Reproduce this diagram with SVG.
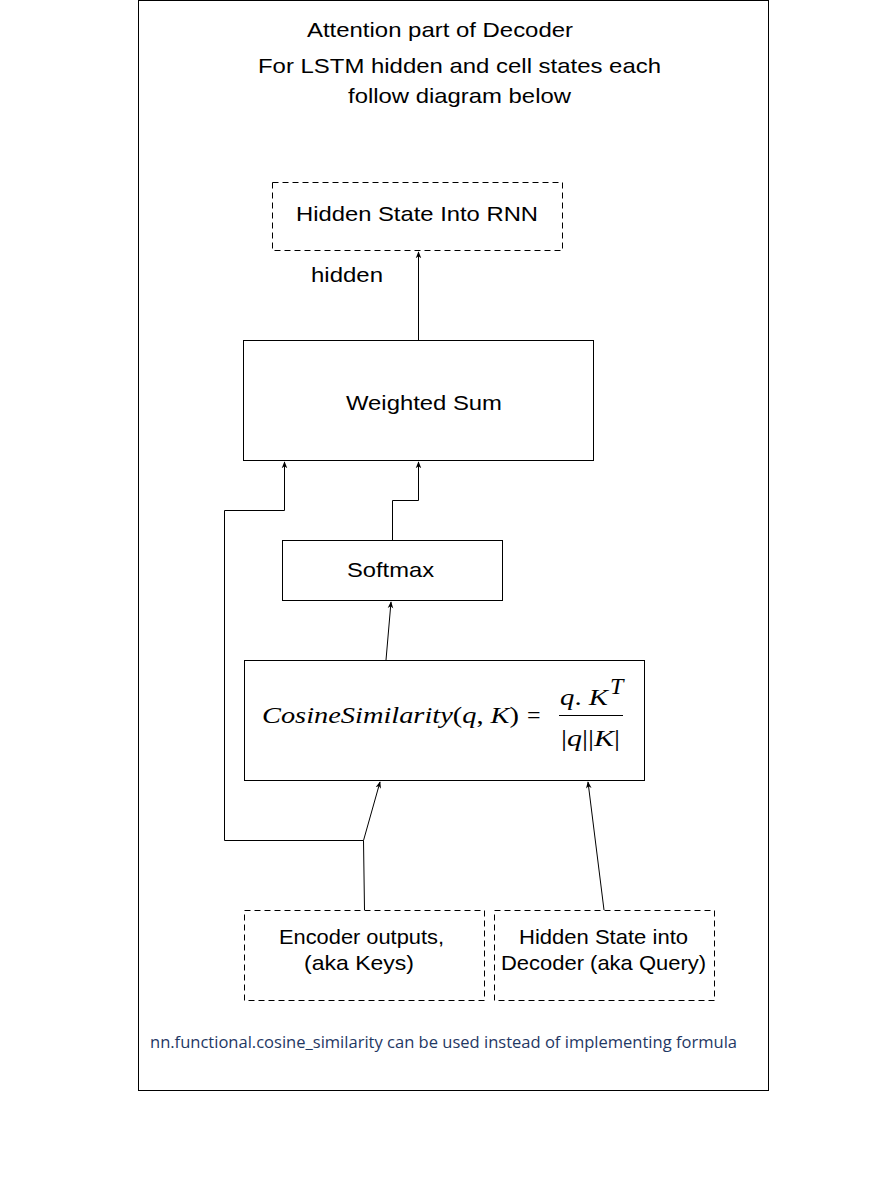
<svg xmlns="http://www.w3.org/2000/svg" width="883" height="1200" viewBox="0 0 883 1200">
<style>
.box{fill:#fff;stroke:#000;stroke-width:1}
.dash{fill:#fff;stroke:#000;stroke-width:1;stroke-dasharray:6 4}
.t{font-family:"Liberation Sans",Arial,sans-serif;font-size:21px;fill:#000;text-anchor:middle}
.c{fill:none;stroke:#000;stroke-width:1}
.m{font-family:"Liberation Serif","Times New Roman",serif;font-style:italic;font-size:24px;fill:#000}
.mr{font-family:"Liberation Serif","Times New Roman",serif;font-style:normal;font-size:24px;fill:#000}
</style>
<defs>
<marker id="arr" viewBox="0 0 10 10" refX="9" refY="5" markerWidth="7" markerHeight="7" orient="auto" markerUnits="userSpaceOnUse">
<path d="M0,1 L10,5 L0,9 L3,5 z" fill="#000"/>
</marker>
</defs>
<rect width="883" height="1200" fill="#fff"/>
<g id="frame">
<rect x="138.5" y="0.5" width="630" height="1090" class="box"/>
<text x="440" y="37" class="t" textLength="266" lengthAdjust="spacingAndGlyphs">Attention part of Decoder</text>
<text x="459.5" y="73" class="t" textLength="403" lengthAdjust="spacingAndGlyphs">For LSTM hidden and cell states each</text>
<text x="459.5" y="103" class="t" textLength="223" lengthAdjust="spacingAndGlyphs">follow diagram below</text>
</g>
<g id="connectors">
<path class="c" d="M418.5,340 L418.5,252" marker-end="url(#arr)"/>
<path class="c" d="M392.5,540 L392.5,500.5 L418.5,500.5 L418.5,462" marker-end="url(#arr)"/>
<path class="c" d="M363.5,840.5 L224.5,840.5 L224.5,510.5 L284.5,510.5 L284.5,462" marker-end="url(#arr)"/>
<path class="c" d="M364.5,910 L363.5,840.5 L380,782" marker-end="url(#arr)"/>
<path class="c" d="M604,910 L588,782" marker-end="url(#arr)"/>
<path class="c" d="M386,660 L391,602" marker-end="url(#arr)"/>
<text x="347" y="282" class="t" textLength="72" lengthAdjust="spacingAndGlyphs">hidden</text>
</g>
<g id="rnn">
<rect x="272.5" y="182.5" width="290" height="68" class="dash"/>
<text x="417" y="221" class="t" textLength="242" lengthAdjust="spacingAndGlyphs">Hidden State Into RNN</text>
</g>
<g id="wsum">
<rect x="243.5" y="340.5" width="350" height="120" class="box"/>
<text x="424" y="410" class="t" textLength="156" lengthAdjust="spacingAndGlyphs">Weighted Sum</text>
</g>
<g id="softmax">
<rect x="282.5" y="540.5" width="220" height="60" class="box"/>
<text x="390.5" y="577" class="t" textLength="87" lengthAdjust="spacingAndGlyphs">Softmax</text>
</g>
<g id="cosine">
<rect x="244.5" y="660.5" width="400" height="120" class="box"/>
<text x="262" y="723" class="m" textLength="257" lengthAdjust="spacingAndGlyphs">CosineSimilarity<tspan class="mr">(</tspan>q<tspan class="mr">, </tspan>K<tspan class="mr">)</tspan></text>
<text x="527" y="723" class="mr">=</text>
<text x="560" y="705" class="m" textLength="48" lengthAdjust="spacingAndGlyphs">q<tspan class="mr">. </tspan>K</text>
<text x="610" y="694" class="m" font-size="16">T</text>
<line x1="559" y1="715.5" x2="623" y2="715.5" stroke="#000" stroke-width="1.2"/>
<text x="561" y="746" class="mr" textLength="59" lengthAdjust="spacingAndGlyphs">|<tspan class="m">q</tspan>||<tspan class="m">K</tspan>|</text>
</g>
<g id="encoder">
<rect x="244.5" y="910.5" width="240" height="90" class="dash"/>
<text x="361.5" y="944" class="t" textLength="165" lengthAdjust="spacingAndGlyphs">Encoder outputs,</text>
<text x="359" y="970" class="t" textLength="110" lengthAdjust="spacingAndGlyphs">(aka Keys)</text>
</g>
<g id="query">
<rect x="494.5" y="910.5" width="220" height="90" class="dash"/>
<text x="603.5" y="944" class="t" textLength="169" lengthAdjust="spacingAndGlyphs">Hidden State into</text>
<text x="603.5" y="970" class="t" textLength="205" lengthAdjust="spacingAndGlyphs">Decoder (aka Query)</text>
</g>
<g id="note">
<text x="150" y="1048" font-family="'Open Sans','Noto Sans',sans-serif" font-size="16" fill="#1f3864" textLength="587" lengthAdjust="spacingAndGlyphs">nn.functional.cosine_similarity can be used instead of implementing formula</text>
</g>
</svg>
